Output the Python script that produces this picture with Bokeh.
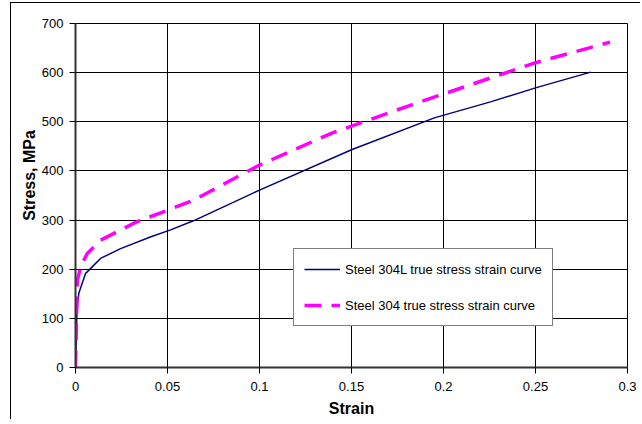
from bokeh.plotting import figure
from bokeh.models import FixedTicker, Legend, LegendItem, Range1d
from bokeh.embed import file_html
from bokeh.resources import INLINE

# Data
strain_304L = [0, 0.0003, 0.0008, 0.0018, 0.0054, 0.0136, 0.0245, 0.041, 0.0517,
               0.0644, 0.1, 0.15, 0.195, 0.226, 0.25, 0.28]
stress_304L = [0, 40, 116, 151, 191, 222, 242, 266, 280, 299, 361, 443, 508, 541, 569, 601]

strain_304 = [0, 0.001, 0.0031, 0.0064, 0.0136, 0.0336, 0.05, 0.0644, 0.1, 0.14, 0.18,
              0.2497, 0.2905]
stress_304 = [0, 178, 208, 232, 259, 297, 320, 341, 412, 478, 531, 620, 662]

x_ticks = [0, 0.05, 0.1, 0.15, 0.2, 0.25, 0.3]
x_tick_labels = ["0", "0.05", "0.1", "0.15", "0.2", "0.25", "0.3"]
y_ticks = [0, 100, 200, 300, 400, 500, 600, 700]

FONT = "Liberation Sans"
NB = "\u00a0"

p = figure(width=630, height=417, output_backend="svg", toolbar_location=None,
           x_range=Range1d(0, 0.3), y_range=Range1d(0, 700),
           min_border_left=64, min_border_right=14, min_border_top=20, min_border_bottom=53)
p.styles = {"border-left": "1px solid #000000", "border-top": "1px solid #000000",
            "margin-left": "10px", "margin-top": "2px"}

p.outline_line_color = "#000000"
p.outline_line_width = 1

for ax in (p.xaxis[0], p.yaxis[0]):
    ax.axis_line_color = "#333333"
    ax.axis_line_width = 2
    ax.major_tick_line_color = "#000000"
    ax.major_tick_out = 6
    ax.major_tick_in = 0
    ax.minor_tick_line_color = None
    ax.major_label_text_font = FONT
    ax.major_label_text_font_size = "13px"
    ax.major_label_text_color = "#000000"
    ax.axis_label_text_font = FONT
    ax.axis_label_text_font_style = "bold"
    ax.axis_label_text_font_size = "16px"
    ax.axis_label_text_color = "#000000"

p.xaxis[0].ticker = FixedTicker(ticks=x_ticks)
p.xaxis[0].major_label_overrides = {t: l for t, l in zip(x_ticks, x_tick_labels)}
p.yaxis[0].ticker = FixedTicker(ticks=y_ticks)
p.xaxis[0].axis_label = "Strain"
p.yaxis[0].axis_label = NB * 9 + "Stress, MPa"
p.xaxis[0].major_label_standoff = 8
p.yaxis[0].major_label_standoff = 6
p.xaxis[0].axis_label_standoff = 6
p.yaxis[0].axis_label_standoff = 1

p.xgrid.grid_line_color = "#000000"
p.ygrid.grid_line_color = "#000000"
p.xgrid.grid_line_width = 1
p.ygrid.grid_line_width = 1

r1 = p.line(strain_304L, stress_304L, line_color="#000080", line_width=1.5)
r2 = p.line(strain_304, stress_304, line_color="#FF00FF", line_width=3.5, line_dash="17 10")

legend = Legend(items=[
    LegendItem(label="Steel 304L true stress strain curve", renderers=[r1]),
    LegendItem(label="Steel 304 true stress strain curve", renderers=[r2]),
], location=(218, 41))
legend.border_line_color = "#000000"
legend.border_line_width = 1
legend.background_fill_alpha = 1
legend.label_text_font = FONT
legend.label_text_font_size = "13px"
legend.label_text_color = "#000000"
legend.glyph_width = 36
legend.glyph_height = 20
legend.label_height = 20
legend.label_standoff = 5
legend.spacing = 16
legend.padding = 10
legend.margin = 0
p.add_layout(legend, "center")

open("out.html", "w").write(file_html(p, INLINE))
